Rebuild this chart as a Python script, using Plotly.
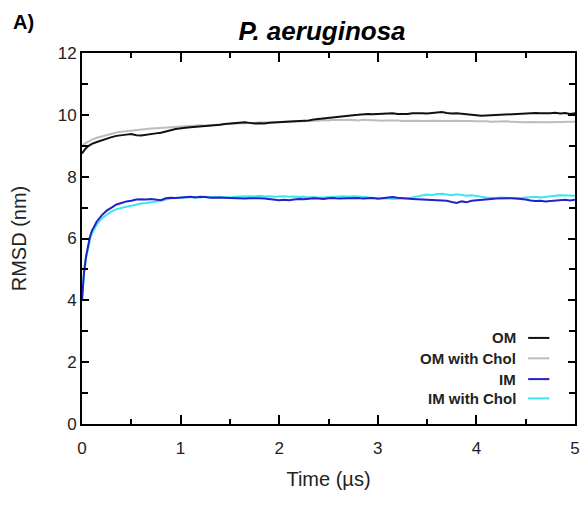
import plotly.graph_objects as go

time_us = [0, 0.02, 0.04, 0.06, 0.08, 0.10, 0.15, 0.20, 0.25, 0.30, 0.35, 0.40, 0.45, 0.50,
           0.55, 0.60, 0.65, 0.70, 0.75, 0.80, 0.85, 0.90, 0.95, 1.00, 1.05, 1.10, 1.15, 1.20,
           1.25, 1.30, 1.35, 1.40, 1.45, 1.50, 1.55, 1.60, 1.65, 1.70, 1.75, 1.80, 1.85, 1.90,
           1.95, 2.00, 2.05, 2.10, 2.15, 2.20, 2.25, 2.30, 2.35, 2.40, 2.45, 2.50, 2.55, 2.60,
           2.65, 2.70, 2.75, 2.80, 2.85, 2.90, 2.95, 3.00, 3.05, 3.10, 3.15, 3.20, 3.25, 3.30,
           3.35, 3.40, 3.45, 3.50, 3.55, 3.60, 3.65, 3.70, 3.75, 3.80, 3.85, 3.90, 3.95, 4.00,
           4.05, 4.10, 4.15, 4.20, 4.25, 4.30, 4.35, 4.40, 4.45, 4.50, 4.55, 4.60, 4.65, 4.70,
           4.75, 4.80, 4.85, 4.90, 4.95, 5.00]

om = [8.75, 8.85, 8.92, 8.98, 9.02, 9.06, 9.12, 9.18, 9.22, 9.28, 9.32, 9.35, 9.36, 9.38,
      9.34, 9.33, 9.36, 9.38, 9.40, 9.42, 9.45, 9.50, 9.54, 9.57, 9.58, 9.60, 9.61, 9.63,
      9.64, 9.66, 9.67, 9.68, 9.70, 9.71, 9.73, 9.75, 9.76, 9.74, 9.72, 9.73, 9.72, 9.74,
      9.75, 9.76, 9.77, 9.78, 9.80, 9.81, 9.80, 9.82, 9.85, 9.87, 9.89, 9.90, 9.92, 9.95,
      9.97, 9.98, 9.99, 10.00, 10.02, 10.03, 10.02, 10.03, 10.02, 10.03, 10.05, 10.03, 10.02, 10.03,
      10.05, 10.06, 10.05, 10.04, 10.05, 10.08, 10.09, 10.06, 10.04, 10.05, 10.04, 10.03, 10.01, 9.99,
      9.97, 9.98, 9.99, 10.00, 10.01, 10.02, 10.03, 10.04, 10.05, 10.06, 10.05, 10.06, 10.05, 10.04,
      10.05, 10.07, 10.04, 10.06, 10.03, 10.05]

om_chol = [9.00, 9.05, 9.10, 9.13, 9.16, 9.20, 9.26, 9.30, 9.35, 9.40, 9.43, 9.45, 9.47, 9.50,
           9.52, 9.53, 9.55, 9.56, 9.57, 9.58, 9.60, 9.60, 9.62, 9.63, 9.64, 9.63, 9.65, 9.66,
           9.65, 9.67, 9.68, 9.69, 9.70, 9.71, 9.72, 9.73, 9.72, 9.73, 9.74, 9.75, 9.76, 9.75,
           9.76, 9.77, 9.78, 9.77, 9.79, 9.80, 9.79, 9.81, 9.82, 9.81, 9.83, 9.82, 9.84, 9.83,
           9.84, 9.84, 9.83, 9.82, 9.84, 9.83, 9.82, 9.83, 9.81, 9.82, 9.83, 9.82, 9.80, 9.81,
           9.82, 9.81, 9.80, 9.81, 9.82, 9.81, 9.80, 9.81, 9.82, 9.81, 9.80, 9.81, 9.80, 9.79,
           9.80, 9.79, 9.78, 9.79, 9.80, 9.79, 9.78, 9.77, 9.78, 9.76, 9.77, 9.76, 9.77, 9.76,
           9.76, 9.77, 9.78, 9.77, 9.78, 9.78]

im = [4.00, 4.90, 5.40, 5.80, 6.05, 6.25, 6.55, 6.75, 6.90, 7.00, 7.10, 7.15, 7.20, 7.22,
      7.26, 7.27, 7.26, 7.28, 7.25, 7.24, 7.30, 7.32, 7.31, 7.33, 7.34, 7.35, 7.33, 7.35,
      7.34, 7.32, 7.33, 7.32, 7.31, 7.30, 7.31, 7.30, 7.29, 7.30, 7.31, 7.30, 7.29, 7.27,
      7.26, 7.24, 7.25, 7.24, 7.26, 7.28, 7.27, 7.29, 7.30, 7.29, 7.28, 7.30, 7.31, 7.29,
      7.30, 7.31, 7.32, 7.31, 7.29, 7.30, 7.31, 7.29, 7.30, 7.31, 7.34, 7.32, 7.30, 7.29,
      7.28, 7.27, 7.26, 7.25, 7.24, 7.23, 7.21, 7.22, 7.18, 7.15, 7.20, 7.17, 7.22, 7.24,
      7.26, 7.27, 7.28, 7.29, 7.30, 7.31, 7.30, 7.29, 7.28, 7.26, 7.23, 7.21, 7.22, 7.20,
      7.21, 7.23, 7.24, 7.25, 7.23, 7.25]

im_chol = [4.00, 4.85, 5.35, 5.70, 5.95, 6.15, 6.45, 6.65, 6.78, 6.88, 6.95, 7.00, 7.03, 7.06,
           7.10, 7.13, 7.15, 7.17, 7.19, 7.22, 7.26, 7.30, 7.31, 7.32, 7.33, 7.32, 7.34, 7.33,
           7.35, 7.34, 7.33, 7.35, 7.34, 7.33, 7.35, 7.36, 7.35, 7.37, 7.36, 7.38, 7.36, 7.37,
           7.35, 7.36, 7.37, 7.35, 7.36, 7.34, 7.35, 7.33, 7.34, 7.32, 7.33, 7.35, 7.34, 7.36,
           7.37, 7.35, 7.37, 7.36, 7.34, 7.33, 7.31, 7.30, 7.29, 7.30, 7.28, 7.29, 7.28, 7.30,
           7.33, 7.36, 7.39, 7.42, 7.40, 7.44, 7.45, 7.42, 7.40, 7.43, 7.41, 7.38, 7.40, 7.37,
           7.35, 7.33, 7.32, 7.31, 7.33, 7.32, 7.30, 7.30, 7.31, 7.33, 7.34, 7.35, 7.33, 7.34,
           7.36, 7.38, 7.40, 7.39, 7.37, 7.38]

series_names = ["OM", "OM with Chol", "IM", "IM with Chol"]
series_values = [om, om_chol, im, im_chol]
series_colors = ["#111111", "#bdbdbd", "#2222c8", "#3ce6ee"]

x_ticks = [0, 1, 2, 3, 4, 5]
y_ticks = [0, 2, 4, 6, 8, 10, 12]

FONT = "Liberation Sans, Arial, Helvetica, sans-serif"

W, H = 580, 498
L, R, T, B = 74, 8, 45, 82
PW, PH = W - L - R, H - T - B

fig = go.Figure()
order = [1, 0, 3, 2]
for i in order:
    fig.add_trace(go.Scatter(x=time_us, y=series_values[i], mode="lines",
                             name=series_names[i],
                             line=dict(color=series_colors[i], width=2),
                             showlegend=False))

axis_common = dict(showline=True, linecolor="black", linewidth=2, mirror="ticks",
                   ticks="inside", tickcolor="black", tickwidth=2, showgrid=False,
                   zeroline=False, tickfont=dict(family=FONT, size=17, color="#222"))

fig.update_xaxes(range=[0, 5], tickvals=x_ticks, ticklen=9, ticklabelstandoff=8,
                 minor=dict(dtick=0.5, ticks="inside", ticklen=5, tickwidth=2,
                            tickcolor="black", showgrid=False),
                 title=dict(text="Time (µs)", font=dict(family=FONT, size=20, color="#222"),
                            standoff=15),
                 **axis_common)
fig.update_yaxes(range=[0, 12], tickvals=y_ticks, ticklen=7,
                 minor=dict(dtick=1, ticks="inside", ticklen=6, tickwidth=2,
                            tickcolor="black", showgrid=False),
                 title=dict(text="RMSD (nm)", font=dict(family=FONT, size=20, color="#222"),
                            standoff=27),
                 **axis_common)

# legend: right-aligned bold text with sample line on the right (as in reference)
leg_y = [0.232, 0.177, 0.121, 0.069]
for name, color, yy in zip(series_names, series_colors, leg_y):
    fig.add_annotation(x=0.884, y=yy, xref="paper", yref="paper", text="<b>" + name + "</b>",
                       showarrow=False, xanchor="right", yanchor="middle",
                       font=dict(family=FONT, size=15, color="#222"))
    fig.add_shape(type="line", xref="paper", yref="paper", x0=0.905, x1=0.948,
                  y0=yy, y1=yy, line=dict(color=color, width=2))

fig.update_layout(
    width=W, height=H,
    margin=dict(l=L, r=R, t=T, b=B),
    plot_bgcolor="white", paper_bgcolor="white",
    title=dict(text="P. aeruginosa", x=314 / W, xanchor="center",
               y=1 - 23 / H, yanchor="middle",
               font=dict(family=FONT, size=26, color="black", weight="bold", style="italic")),
)
fig.add_annotation(x=(2 - L) / PW, y=(H - B - 14) / PH, xref="paper", yref="paper",
                   text="<b>A)</b>", showarrow=False, xanchor="left", yanchor="middle",
                   font=dict(family=FONT, size=20, color="black"))

fig.write_html("out.html")
